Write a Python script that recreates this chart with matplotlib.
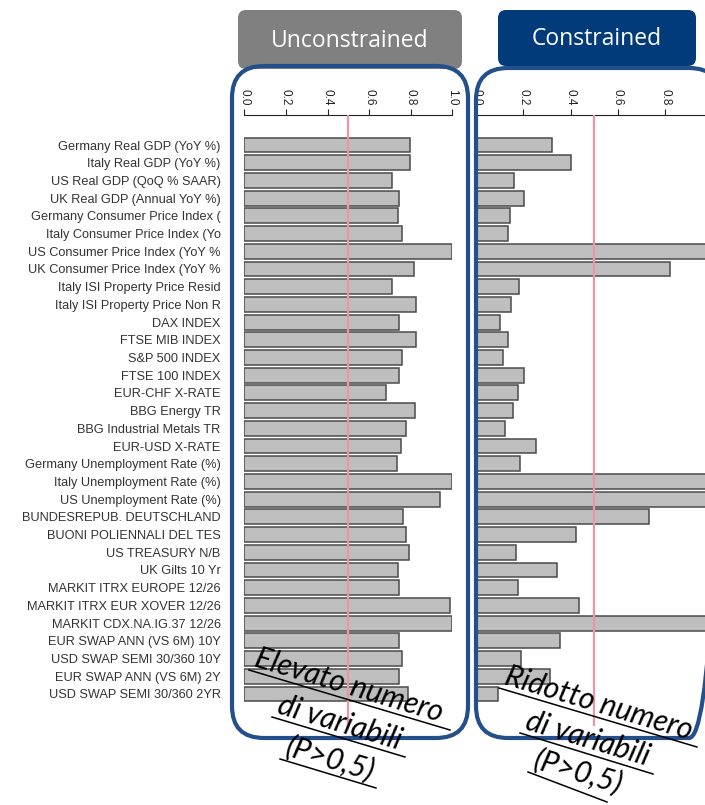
#!/usr/bin/env python3
"""Unconstrained vs constrained inclusion probabilities, side by side."""

import matplotlib

matplotlib.use("Agg")
import matplotlib.pyplot as plt
from matplotlib.patches import FancyBboxPatch

labels = [
    "Germany Real GDP (YoY %)",
    "Italy Real GDP (YoY %)",
    "US Real GDP (QoQ % SAAR)",
    "UK Real GDP (Annual YoY %)",
    "Germany Consumer Price Index (",
    "Italy Consumer Price Index (Yo",
    "US Consumer Price Index (YoY %",
    "UK Consumer Price Index (YoY %",
    "Italy ISI Property Price Resid",
    "Italy ISI Property Price Non R",
    "DAX INDEX",
    "FTSE MIB INDEX",
    "S&P 500 INDEX",
    "FTSE 100 INDEX",
    "EUR-CHF X-RATE",
    "BBG Energy TR",
    "BBG Industrial Metals TR",
    "EUR-USD X-RATE",
    "Germany Unemployment Rate (%)",
    "Italy Unemployment Rate (%)",
    "US Unemployment Rate (%)",
    "BUNDESREPUB. DEUTSCHLAND",
    "BUONI POLIENNALI DEL TES",
    "US TREASURY N/B",
    "UK Gilts 10 Yr",
    "MARKIT ITRX EUROPE 12/26",
    "MARKIT ITRX EUR XOVER 12/26",
    "MARKIT CDX.NA.IG.37 12/26",
    "EUR SWAP ANN (VS 6M) 10Y",
    "USD SWAP SEMI 30/360 10Y",
    "EUR SWAP ANN (VS 6M) 2Y",
    "USD SWAP SEMI 30/360 2YR",
]

unconstrained = [
    0.797, 0.797, 0.71, 0.744, 0.74, 0.757, 1.0, 0.814, 0.71, 0.826, 0.742,
    0.826, 0.757, 0.745, 0.681, 0.822, 0.776, 0.752, 0.736, 0.997, 0.94,
    0.761, 0.776, 0.794, 0.74, 0.745, 0.99, 0.997, 0.742, 0.759, 0.745, 0.787,
]

constrained = [
    0.32, 0.40, 0.16, 0.205, 0.142, 0.137, 1.0, 0.82, 0.18, 0.146, 0.10,
    0.135, 0.115, 0.204, 0.177, 0.156, 0.121, 0.255, 0.184, 1.0, 1.0,
    0.733, 0.422, 0.17, 0.344, 0.177, 0.437, 1.0, 0.355, 0.19, 0.315, 0.095,
]

ticks_left = [0.0, 0.2, 0.4, 0.6, 0.8, 1.0]
ticks_right = [0.0, 0.2, 0.4, 0.6, 0.8]  # 1.0 falls outside the picture
threshold = 0.5

W, H = 705, 805
FRAME = "#234f8a"
BAR = "#bebebe"
EDGE = "#4a4a4a"
RED = "#ee95a5"


def px_axes(fig, x0, x1, y0, y1):
    return fig.add_axes([x0 / W, 1 - y1 / H, (x1 - x0) / W, (y1 - y0) / H])


def draw_panel(ax, values, ticks, show_labels):
    pos = list(range(len(values)))
    ax.barh(pos, values, height=0.84, color=BAR, edgecolor=EDGE,
            linewidth=1.1, zorder=2)
    ax.axvline(threshold, color=RED, lw=1.6, zorder=3)
    ax.set_xlim(0, 1.0)
    ax.set_ylim(32.81, -1.695)
    for side in ["left", "right", "bottom"]:
        ax.spines[side].set_visible(False)
    ax.spines["top"].set_bounds(0, 1.0)
    ax.spines["top"].set_linewidth(0.8)
    ax.spines["top"].set_color("#222222")
    ax.xaxis.tick_top()
    ax.set_xticks(ticks)
    ax.set_xticklabels([f"{t:.1f}" for t in ticks])
    ax.tick_params(axis="x", direction="out", length=4.5, width=0.8,
                   pad=2.5, labelsize=8.5, labelrotation=-90,
                   colors="#222222")
    ax.set_yticks(pos)
    if show_labels:
        ax.set_yticklabels(labels, fontsize=9.2, color="#333333")
        ax.tick_params(axis="y", length=0, pad=17)
    else:
        ax.set_yticklabels([])
        ax.tick_params(axis="y", length=0)
    ax.patch.set_alpha(0)


plt.rcParams["font.family"] = ["Liberation Sans", "DejaVu Sans"]

fig = plt.figure(figsize=(W / 100, H / 100), dpi=100)

ax_left = px_axes(fig, 244.3, 452.3, 115, 726)
draw_panel(ax_left, unconstrained, ticks_left, True)

ax_right = px_axes(fig, 476, 712.5, 115, 726)
draw_panel(ax_right, constrained, ticks_right, False)

# overlay in pixel coordinates for the frames, headers and notes
ov = fig.add_axes([0, 0, 1, 1], zorder=10)
ov.set_xlim(0, W)
ov.set_ylim(H, 0)
ov.axis("off")
ov.patch.set_alpha(0)

ov.add_patch(FancyBboxPatch((238, 10), 224, 59,
                            boxstyle="round,pad=0,rounding_size=8",
                            facecolor="#808080", edgecolor="none"))
ov.add_patch(FancyBboxPatch((498, 10), 198, 56,
                            boxstyle="round,pad=0,rounding_size=8",
                            facecolor="#013b7a", edgecolor="none"))
ov.text(350, 41, "Unconstrained", color="white", fontsize=16.5,
        family=["Open Sans", "DejaVu Sans"], ha="center", va="center")
ov.text(597, 39, "Constrained", color="white", fontsize=16.5,
        family=["Open Sans", "DejaVu Sans"], ha="center", va="center")

ov.add_patch(FancyBboxPatch((232, 66), 236, 672,
                            boxstyle="round,pad=0,rounding_size=32",
                            facecolor="none", edgecolor=FRAME, lw=3))
ov.add_patch(FancyBboxPatch((476, 68), 245, 670,
                            boxstyle="round,pad=0,rounding_size=32",
                            facecolor="none", edgecolor=FRAME, lw=3))

notes = [
    ("Elevato numero", (249, 670), (450, 730)),
    ("di variabili", (272, 717), (405, 757)),
    ("(P>0,5)", (280, 759), (376, 788)),
    ("Ridotto numero", (499, 688), (697, 747)),
    ("di variabili", (520, 733), (653, 774)),
    ("(P>0,5)", (528, 772), (607, 802)),
]
for text, (xa, ya), (xb, yb) in notes:
    ov.plot([xa, xb], [ya, yb], color="black", lw=1.1)
    ov.text(xa + 4, ya - 4, text, fontsize=21.5, style="italic",
            family=["Lato", "DejaVu Sans"], color="black",
            rotation=-16.7, rotation_mode="anchor",
            ha="left", va="baseline")

fig.savefig("out.png", dpi=100)
